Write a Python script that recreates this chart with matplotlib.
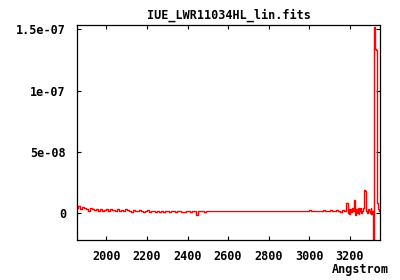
import matplotlib
matplotlib.use("Agg")
import matplotlib.pyplot as plt
import numpy as np

# flux in units of 1e-9 (erg/s/cm2/A), baseline part on a 10 A grid
base_wave = np.arange(1855, 3180, 10)
base_flux = [
    4.5, 6, 3, 5, 4, 3.5, 2, 4, 3, 2.5,
    3, 2, 3.5, 1.5, 2.5, 3, 2, 3.5, 2.5, 2,
    3, 2, 2.5, 1.5, 3, 2.5, 2, 1, 2.5, 2,
    1.5, 2.5, 2, 1, 2, 2.5, 0.5, 2, 1.5, 1,
    2, 1, 2, 0.5, 1.5, 2, 1, 2, 1.5, 0.5,
    1.5, 2, 1, 0.5, 2, 1.5, 1, 2, 1.5, -2,
    2, 1.5, 2, 1, 2, 2, 1.5, 2, 1.5, 2,
    2, 1.5, 2, 2, 1.5, 2, 2, 1.5, 2, 2,
    2, 2, 1.5, 2, 2, 2, 1.5, 2, 2, 2,
    2, 2, 2, 1.5, 2, 2, 2, 2, 2, 1.5,
    2, 2, 2, 2, 2, 2, 2, 2, 2, 2,
    2, 2, 2, 2, 2, 2.5, 2, 2, 2, 2,
    2, 2, 2.5, 2, 2, 2.5, 1.5, 2, 2.5, 2,
    1, 2.5, 2,
]

# red end, where the flux rises
tail_wave = [3184, 3188, 3192, 3196, 3200, 3205, 3210, 3215, 3220, 3225,
             3229, 3233, 3237, 3241, 3245, 3250, 3255, 3260, 3265, 3270,
             3274, 3278, 3282, 3286, 3290, 3295, 3300, 3305, 3309, 3313,
             3316, 3319, 3322, 3326, 3330, 3334, 3337, 3341, 3345]
tail_flux = [8, 8, 0, 3, -1, 3, 1, 4, 2, 11,
             -2, 3, 0, 4, -1, 2, 4, 0, 2, 4,
             19, 18, 2, 0, 3, 2, 0, 4, -1, 2,
             -40, 150, 152, 134, 133, 8, 8, 3, 2]

wave = np.concatenate([base_wave, tail_wave])
flux = np.concatenate([base_flux, tail_flux]) * 1e-9

xticks = [2000, 2200, 2400, 2600, 2800, 3000, 3200]
yticks = [0, 5e-8, 1e-7, 1.5e-7]
ylabels = ["0", "5e-08", "1e-07", "1.5e-07"]

font = dict(family="DejaVu Sans Mono", weight="bold", size=8.5)

fig = plt.figure(figsize=(4, 2.8), dpi=100)
ax = fig.add_axes([77 / 400, 40 / 280, 303 / 400, 215 / 280])
ax.plot(wave, flux, color="#ff0000", lw=1.0, drawstyle="steps-mid")
ax.set_xlim(1855, 3349)
ax.set_ylim(-22e-9, 153.5e-9)

ax.set_xticks(xticks)
ax.set_xticklabels([str(t) for t in xticks], fontdict=font)
ax.set_yticks(yticks)
ax.set_yticklabels(ylabels, fontdict=font)
ax.tick_params(direction="in", length=3, width=0.8, top=True, right=True,
               labeltop=False, labelright=False)
ax.tick_params(axis="x", pad=7)
ax.tick_params(axis="y", pad=8)
for s in ax.spines.values():
    s.set_linewidth(0.9)

fig.text(228.5 / 400, 265 / 280, "IUE_LWR11034HL_lin.fits", ha="center", va="center", **font)
fig.text(389 / 400, 10 / 280, "Angstrom", ha="right", va="center", **font)

fig.savefig("out.png", dpi=100)
